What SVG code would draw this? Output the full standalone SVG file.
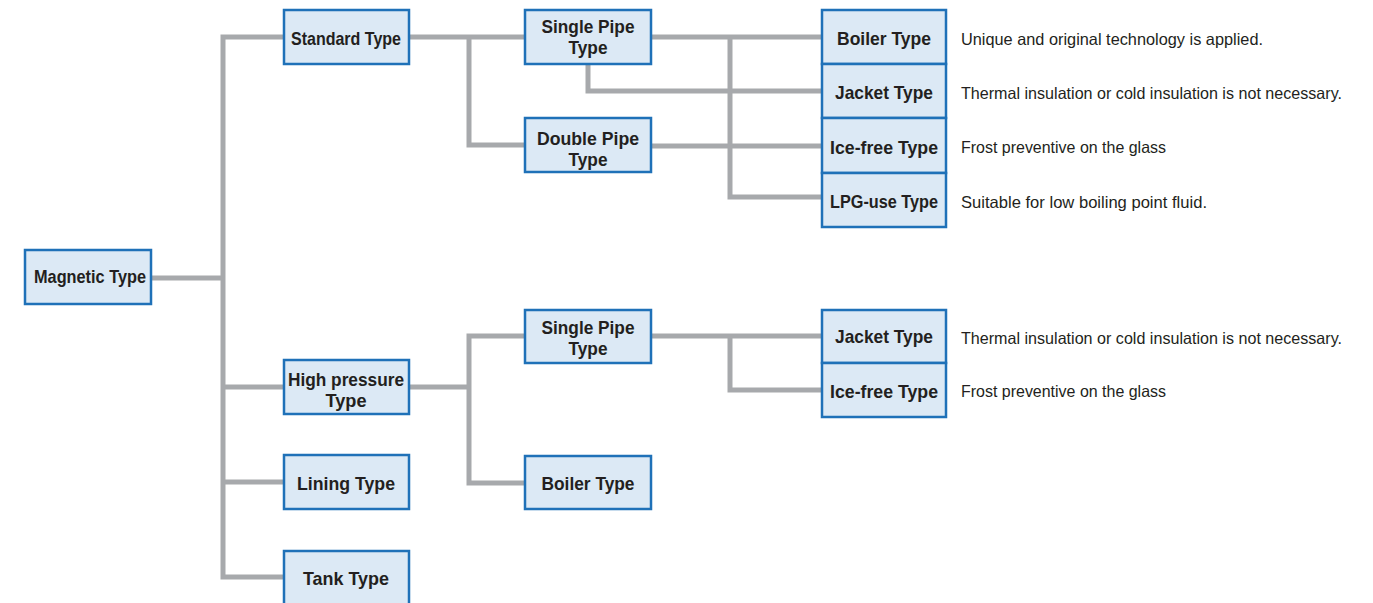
<svg xmlns="http://www.w3.org/2000/svg" width="1373" height="603" viewBox="0 0 1373 603">
<style>
.c{fill:none;stroke:#a7a9ac;stroke-width:5;stroke-linejoin:miter;stroke-linecap:butt}
.b{fill:#dce9f5;stroke:#1f71b8;stroke-width:2.5}
.l{font-family:"Liberation Sans",Arial,sans-serif;font-weight:bold;font-size:18.5px;fill:#231f20;text-anchor:middle}
.d{font-family:"Liberation Sans",Arial,sans-serif;font-size:16.5px;fill:#231f20}
</style>
<rect width="1373" height="603" fill="#ffffff"/>
<g id="connectors">
<path class="c" d="M152 278H223"/>
<path class="c" d="M283 37H223V577H283"/>
<path class="c" d="M223 387H283"/>
<path class="c" d="M223 482H283"/>
<path class="c" d="M409 37H524"/>
<path class="c" d="M469 37V145H524"/>
<path class="c" d="M652 37H821"/>
<path class="c" d="M730 37V197H821"/>
<path class="c" d="M588 64V91H821"/>
<path class="c" d="M652 146H821"/>
<path class="c" d="M409 387H469"/>
<path class="c" d="M524 336H469V483H524"/>
<path class="c" d="M652 336H821"/>
<path class="c" d="M730 336V390H821"/>
</g>
<g id="magnetic"><rect class="b" x="25" y="250" width="126" height="54"/><text class="l" x="90" y="283" textLength="112" lengthAdjust="spacingAndGlyphs">Magnetic Type</text></g>
<g id="standard"><rect class="b" x="284" y="10" width="125" height="54"/><text class="l" x="346" y="45" textLength="110" lengthAdjust="spacingAndGlyphs">Standard Type</text></g>
<g id="highpressure"><rect class="b" x="284" y="360" width="125" height="54"/><text class="l" x="346" y="386" textLength="116" lengthAdjust="spacingAndGlyphs">High pressure</text><text class="l" x="346" y="407" textLength="41" lengthAdjust="spacingAndGlyphs">Type</text></g>
<g id="lining"><rect class="b" x="284" y="455" width="125" height="54"/><text class="l" x="346" y="490" textLength="98" lengthAdjust="spacingAndGlyphs">Lining Type</text></g>
<g id="tank"><rect class="b" x="284" y="551" width="125" height="60"/><text class="l" x="346" y="585" textLength="86" lengthAdjust="spacingAndGlyphs">Tank Type</text></g>
<g id="single1"><rect class="b" x="525" y="10" width="126" height="54"/><text class="l" x="588" y="33" textLength="93" lengthAdjust="spacingAndGlyphs">Single Pipe</text><text class="l" x="588" y="54" textLength="39" lengthAdjust="spacingAndGlyphs">Type</text></g>
<g id="double1"><rect class="b" x="525" y="118" width="126" height="54"/><text class="l" x="588" y="145" textLength="102" lengthAdjust="spacingAndGlyphs">Double Pipe</text><text class="l" x="588" y="166" textLength="39" lengthAdjust="spacingAndGlyphs">Type</text></g>
<g id="single2"><rect class="b" x="525" y="310" width="126" height="53"/><text class="l" x="588" y="334" textLength="93" lengthAdjust="spacingAndGlyphs">Single Pipe</text><text class="l" x="588" y="355" textLength="39" lengthAdjust="spacingAndGlyphs">Type</text></g>
<g id="boiler2"><rect class="b" x="525" y="456" width="126" height="53"/><text class="l" x="588" y="490" textLength="93" lengthAdjust="spacingAndGlyphs">Boiler Type</text></g>
<g id="boiler1"><rect class="b" x="822" y="10" width="124" height="54"/><text class="l" x="884" y="45" textLength="94" lengthAdjust="spacingAndGlyphs">Boiler Type</text></g>
<g id="jacket1"><rect class="b" x="822" y="64" width="124" height="54"/><text class="l" x="884" y="99" textLength="98" lengthAdjust="spacingAndGlyphs">Jacket Type</text></g>
<g id="icefree1"><rect class="b" x="822" y="118" width="124" height="55"/><text class="l" x="884" y="154" textLength="108" lengthAdjust="spacingAndGlyphs">Ice-free Type</text></g>
<g id="lpg1"><rect class="b" x="822" y="173" width="124" height="54"/><text class="l" x="884" y="208" textLength="108" lengthAdjust="spacingAndGlyphs">LPG-use Type</text></g>
<g id="jacket2"><rect class="b" x="822" y="310" width="124" height="53"/><text class="l" x="884" y="343" textLength="98" lengthAdjust="spacingAndGlyphs">Jacket Type</text></g>
<g id="icefree2"><rect class="b" x="822" y="363" width="124" height="54"/><text class="l" x="884" y="398" textLength="108" lengthAdjust="spacingAndGlyphs">Ice-free Type</text></g>
<g id="notes">
<text class="d" x="961" y="45" textLength="302" lengthAdjust="spacingAndGlyphs">Unique and original technology is applied.</text>
<text class="d" x="961" y="99" textLength="381" lengthAdjust="spacingAndGlyphs">Thermal insulation or cold insulation is not necessary.</text>
<text class="d" x="961" y="153" textLength="205" lengthAdjust="spacingAndGlyphs">Frost preventive on the glass</text>
<text class="d" x="961" y="208" textLength="246" lengthAdjust="spacingAndGlyphs">Suitable for low boiling point fluid.</text>
<text class="d" x="961" y="344" textLength="381" lengthAdjust="spacingAndGlyphs">Thermal insulation or cold insulation is not necessary.</text>
<text class="d" x="961" y="397" textLength="205" lengthAdjust="spacingAndGlyphs">Frost preventive on the glass</text>
</g>
</svg>
